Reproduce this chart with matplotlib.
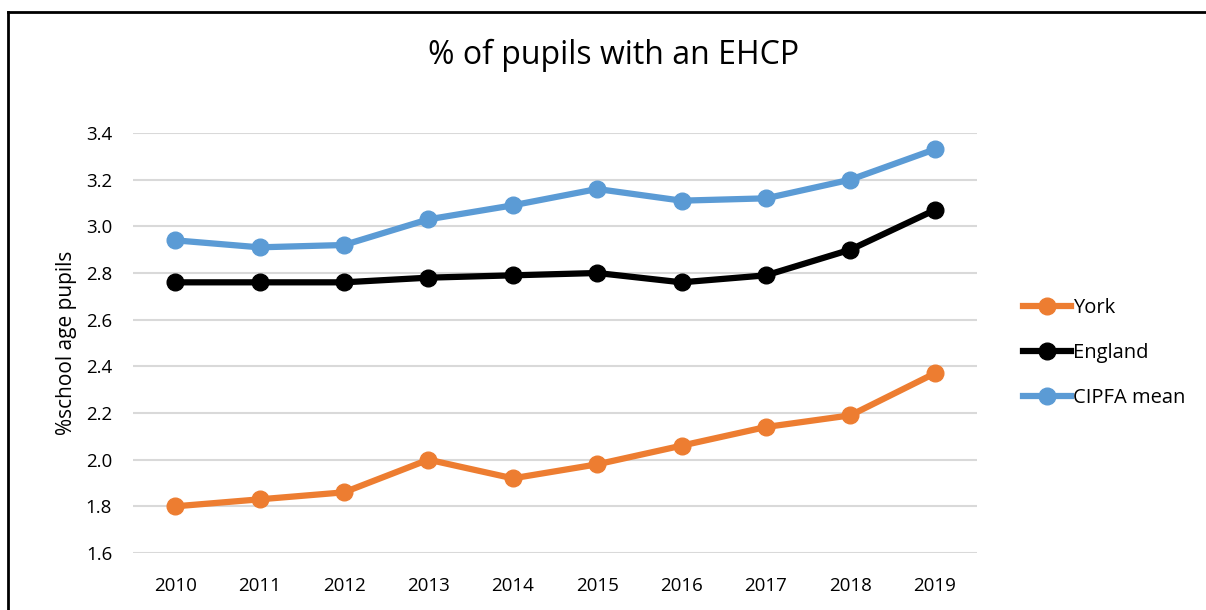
import matplotlib.pyplot as plt
from matplotlib.lines import Line2D

years = ["2010", "2011", "2012", "2013", "2014", "2015", "2016", "2017", "2018", "2019"]
york = [1.80, 1.83, 1.86, 2.00, 1.92, 1.98, 2.06, 2.14, 2.19, 2.37]
england = [2.76, 2.76, 2.76, 2.78, 2.79, 2.80, 2.76, 2.79, 2.90, 3.07]
cipfa = [2.94, 2.91, 2.92, 3.03, 3.09, 3.16, 3.11, 3.12, 3.20, 3.33]
yticks = [1.6, 1.8, 2.0, 2.2, 2.4, 2.6, 2.8, 3.0, 3.2, 3.4]

plt.rcParams['font.family'] = ['Open Sans', 'DejaVu Sans']

W, H = 1206, 610
fig = plt.figure(figsize=(W / 100, H / 100), dpi=100)
ax = fig.add_axes([133 / W, 1 - 553 / H, (977 - 133) / W, (553 - 133) / H])

x = list(range(len(years)))
series = [("York", york, "#ED7D31"), ("England", england, "#000000"),
          ("CIPFA mean", cipfa, "#5B9BD5")]
for name, vals, col in series:
    ax.plot(x, vals, color=col, lw=4.5, marker="o", ms=12, label=name,
            solid_capstyle="round", zorder=3)

ax.set_xlim(-0.5, len(years) - 0.5)
ax.set_ylim(1.6, 3.4)
ax.set_yticks(yticks)
ax.set_yticklabels([f"{v:.1f}" for v in yticks], fontsize=13.5)
ax.set_xticks(x)
ax.set_xticklabels(years, fontsize=13.5)
ax.tick_params(axis="x", length=0, pad=17)
ax.tick_params(axis="y", length=0, pad=15)
ax.grid(axis="y", color="#D9D9D9", lw=1.5)
ax.set_axisbelow(True)
for s in ax.spines.values():
    s.set_visible(False)
ax.set_ylabel("%school age pupils", fontsize=15, labelpad=6)

fig.text(614 / W, 1 - 55 / H, "% of pupils with an EHCP", fontsize=23,
         ha="center", va="center")

handles = [Line2D([0], [0], color=c, lw=4.5, marker="o", ms=12) for _, _, c in series]
fig.legend(handles, [n for n, _, _ in series], loc="upper left",
           bbox_to_anchor=(1005 / W, 1 - 280 / H), frameon=False, fontsize=14.5,
           handlelength=2.4, handletextpad=0.1, labelspacing=1.25)

# outer chart border (left and top visible)
fig.add_artist(Line2D([8 / W, 8 / W], [0, 1 - 12 / H], color="black", lw=2,
                      transform=fig.transFigure))
fig.add_artist(Line2D([8 / W, 1], [1 - 12 / H, 1 - 12 / H], color="black", lw=2,
                      transform=fig.transFigure))

fig.savefig("out.png", dpi=100)
